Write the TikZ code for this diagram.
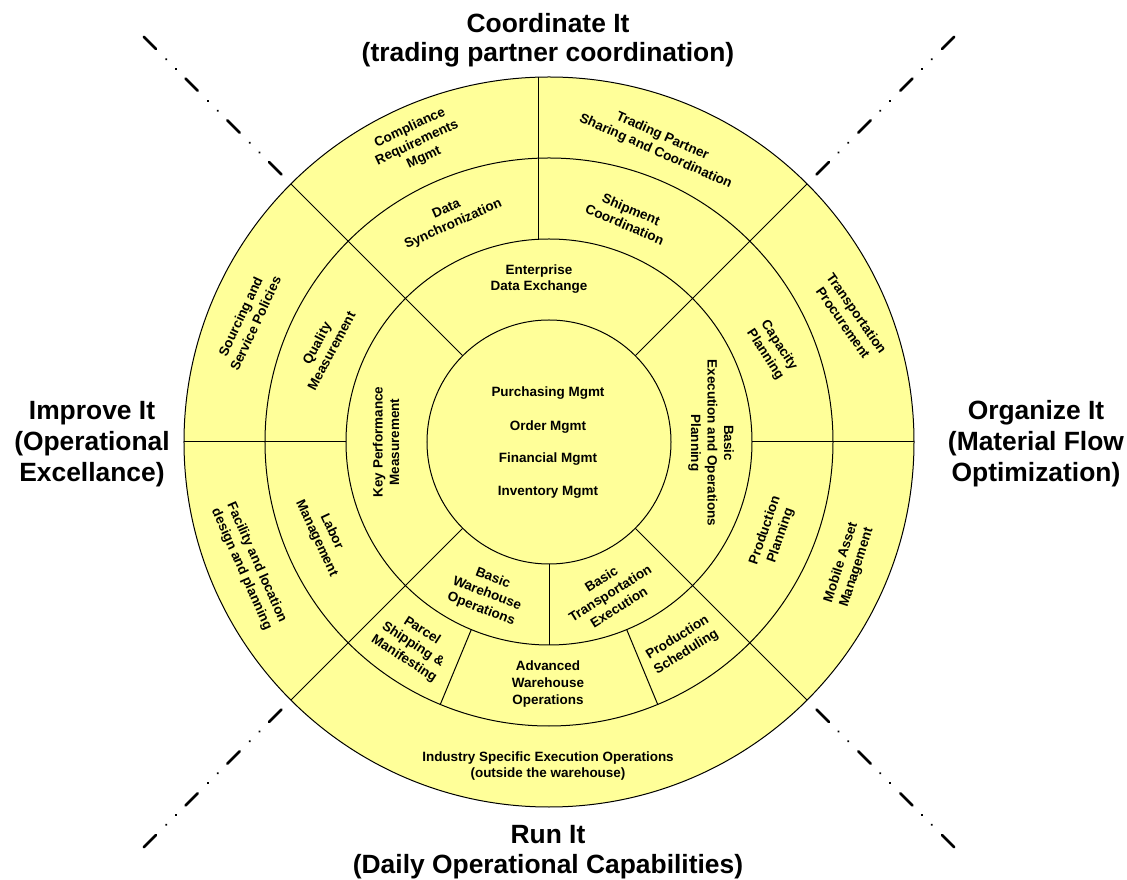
\documentclass[tikz,border=0pt]{standalone}
\usepackage{fontspec}
\setmainfont{Liberation Sans}
\definecolor{ringfill}{RGB}{255,255,153}
\tikzset{
  seg/.style={draw=black, line width=0.75pt},
  lbl/.style={font=\fontsize{10.1}{12.4}\selectfont\bfseries, align=center, inner sep=0pt},
  ctr/.style={font=\fontsize{10.1}{12}\selectfont\bfseries, inner sep=0pt},
  ttl/.style={font=\fontsize{19.8}{23.25}\selectfont\bfseries, inner sep=0pt, anchor=base},
  dashdot/.style={line width=1.9pt, line cap=round,
    dash pattern=on 13pt off 10.84pt on 0.01pt off 10.28pt on 0.01pt off 10.16pt},
}
\begin{document}
\begin{tikzpicture}[x=0.75pt,y=0.75pt]
\fill[white] (-549,-438) rectangle (578,442);
\useasboundingbox (-549,-438) rectangle (578,442);

% disk and rings
\fill[ringfill] (0,0) circle[radius=365];
\foreach \r in {122,203,284,365} \draw[seg] (0,0) circle[radius=\r];
\foreach \a in {45,135,225,315} \draw[seg] (\a:122) -- (\a:365);
\foreach \a in {0,180} \draw[seg] (\a:203) -- (\a:365);
\draw[seg] (270:122) -- (270:203);
\foreach \a in {247.5,292.5} \draw[seg] (\a:203) -- (\a:284);
\draw[seg] (-11,202.7) -- (-11,364.8);

% dash-dot diagonals
\coordinate (ulA) at (135:376); \coordinate (ulB) at (135:573);
\coordinate (urA) at (45:376);  \coordinate (urB) at (45:573);
\coordinate (llA) at (225:376); \coordinate (llB) at (225:573);
\coordinate (lrA) at (315:376); \coordinate (lrB) at (315:573);
\draw[dashdot] (ulB) -- (ulA);
\draw[dashdot] (urB) -- (urA);
\draw[dashdot] (llB) -- (llA);
\draw[dashdot] (lrB) -- (lrA);

% centre
\node[ctr] (c1) at (-1,49) {Purchasing Mgmt};
\node[ctr] (c2) at (-1,15) {Order Mgmt};
\node[ctr] (c3) at (-1,-17) {Financial Mgmt};
\node[ctr] (c4) at (-1,-50) {Inventory Mgmt};

% inner ring
\node[lbl] (edx) at (-10,163) {Enterprise\\Data Exchange};
\node[lbl, rotate=90] (kpm) at (-163,0) {Key Performance\\Measurement};
\node[lbl, rotate=-90] (beop) at (162,-1) {Basic\\Execution and Operations\\Planning};
\node[lbl, rotate=-21] (bwo) at (-62,-152) {Basic\\Warehouse\\Operations};
\node[lbl, rotate=32] (bte) at (61,-151) {Basic\\Transportation\\Execution};

% middle ring
\node[lbl, rotate=24] (dsy) at (-99,225) {Data\\Synchronization};
\node[lbl, rotate=-23] (shc) at (79,225) {Shipment\\Coordination};
\node[lbl, rotate=-57] (cap) at (223,92) {Capacity\\Planning};
\node[lbl, rotate=71] (prp) at (224,-91) {Production\\Planning};
\node[lbl, rotate=32] (prs) at (133,-203) {Production\\Scheduling};
\node[lbl] (awo) at (-1,-242) {Advanced\\Warehouse\\Operations};
\node[lbl, rotate=-33] (psm) at (-136,-203) {Parcel\\Shipping \&\\Manifesting};
\node[lbl, rotate=-65] (lab) at (-225,-93) {Labor\\Management};
\node[lbl, rotate=62] (qua) at (-225,95) {Quality\\Measurement};

% outer ring
\node[lbl, rotate=25] (crm) at (-132,299) {Compliance\\Requirements\\Mgmt};
\node[lbl, rotate=-24] (tps) at (110,298) {Trading Partner\\Sharing and Coordination};
\node[lbl, rotate=-55] (trp) at (301,124) {Transportation\\Procurement};
\node[lbl, rotate=72] (mam) at (300,-123) {Mobile Asset\\Management};
\node[lbl] (ise) at (-1,-324) {Industry Specific Execution Operations\\(outside the warehouse)};
\node[lbl, rotate=-66] (fld) at (-300,-124) {Facility and location\\design and planning};
\node[lbl, rotate=65] (ssp) at (-301,122) {Sourcing and\\Service Policies};

% titles
\node[ttl] (t1) at (-1,409) {Coordinate It};
\node[ttl] (t2) at (-1,380) {(trading partner coordination)};
\node[ttl] (b1) at (-1,-401) {Run It};
\node[ttl] (b2) at (-1,-431) {(Daily Operational Capabilities)};
\node[ttl] (l1) at (-457,22) {Improve It};
\node[ttl] (l2) at (-457,-9) {(Operational};
\node[ttl] (l3) at (-457,-40) {Excellance)};
\node[ttl] (r1) at (487,22) {Organize It};
\node[ttl] (r2) at (487,-9) {(Material Flow};
\node[ttl] (r3) at (487,-40) {Optimization)};
\end{tikzpicture}
\end{document}
